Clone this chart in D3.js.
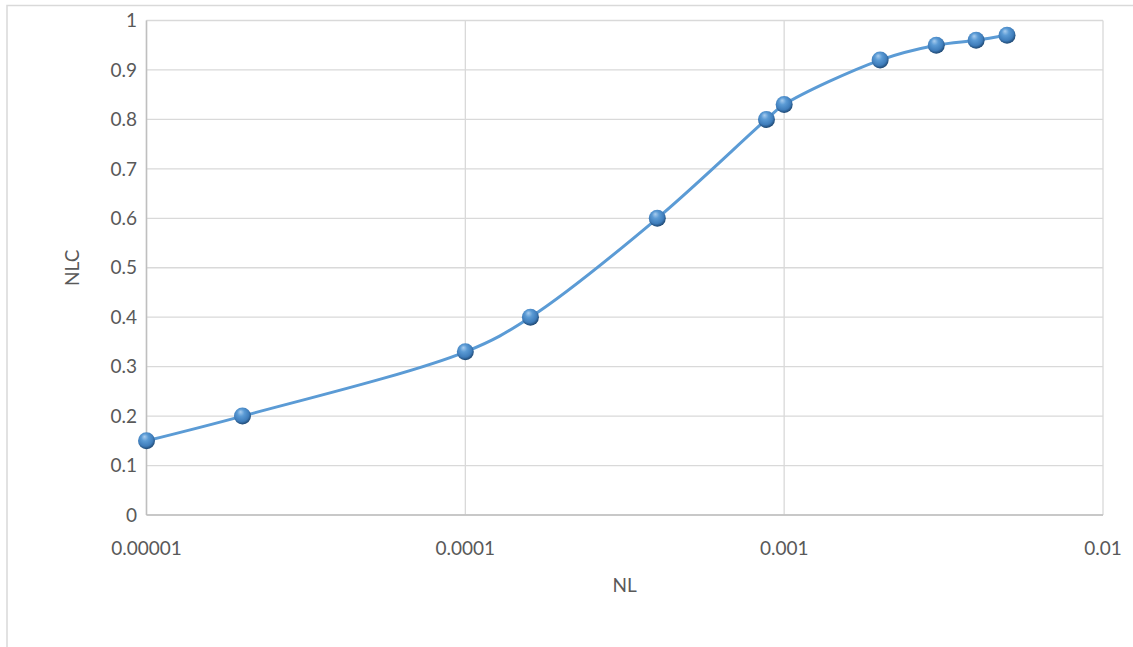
<!DOCTYPE html>
<html>
<head>
<meta charset="utf-8">
<script src="https://cdn.jsdelivr.net/npm/d3@7"></script>
<style>
  html, body { margin: 0; padding: 0; background: #fff; }
  svg { display: block; }
  text { font-family: Lato, "Open Sans", sans-serif; fill: #595959; }
</style>
</head>
<body>
<svg id="chart" width="1133" height="647"></svg>
<script>
// NL values (log axis) and the matching NLC readings
const nl  = [0.00001, 0.00002, 0.0001, 0.00016, 0.0004, 0.00088, 0.001, 0.002, 0.003, 0.004, 0.005];
const nlc = [0.15, 0.20, 0.33, 0.40, 0.60, 0.80, 0.83, 0.92, 0.95, 0.96, 0.97];

const xTicks = [0.00001, 0.0001, 0.001, 0.01];
const xTickLabels = ["0.00001", "0.0001", "0.001", "0.01"];
const yTicks = [0, 0.1, 0.2, 0.3, 0.4, 0.5, 0.6, 0.7, 0.8, 0.9, 1];
const yTickLabels = ["0", "0.1", "0.2", "0.3", "0.4", "0.5", "0.6", "0.7", "0.8", "0.9", "1"];

const svg = d3.select("#chart");
const W = 1133, H = 647;
const plot = { left: 146.5, top: 20.5, right: 1103, bottom: 515 };
const fs = 19;

// outer chart frame (runs past the right and bottom edges)
svg.append("rect")
  .attr("x", 7).attr("y", 5.5)
  .attr("width", W + 20).attr("height", H + 20)
  .attr("fill", "#fff").attr("stroke", "#d9d9d9").attr("stroke-width", 1.5);

const x = d3.scaleLog().domain([0.00001, 0.01]).range([plot.left, plot.right]);
const y = d3.scaleLinear().domain([0, 1]).range([plot.bottom, plot.top]);

// horizontal gridlines
svg.append("g")
  .selectAll("line").data(yTicks).join("line")
  .attr("x1", plot.left).attr("x2", plot.right)
  .attr("y1", d => y(d)).attr("y2", d => y(d))
  .attr("stroke", "#d9d9d9").attr("stroke-width", 1.3);

// vertical gridlines at each decade
svg.append("g")
  .selectAll("line").data(xTicks).join("line")
  .attr("x1", d => x(d)).attr("x2", d => x(d))
  .attr("y1", plot.top).attr("y2", plot.bottom)
  .attr("stroke", "#d9d9d9").attr("stroke-width", 1.3);

// axis lines
svg.append("line")
  .attr("x1", plot.left).attr("x2", plot.left)
  .attr("y1", plot.top).attr("y2", plot.bottom)
  .attr("stroke", "#bfbfbf").attr("stroke-width", 1.5);
svg.append("line")
  .attr("x1", plot.left).attr("x2", plot.right)
  .attr("y1", plot.bottom).attr("y2", plot.bottom)
  .attr("stroke", "#bfbfbf").attr("stroke-width", 1.5);

// y tick labels
svg.append("g")
  .selectAll("text").data(yTicks).join("text")
  .attr("x", 137).attr("y", d => y(d))
  .attr("dy", "0.35em")
  .attr("text-anchor", "end")
  .attr("font-size", fs)
  .text((d, i) => yTickLabels[i]);

// x tick labels
svg.append("g")
  .selectAll("text").data(xTicks).join("text")
  .attr("x", d => x(d)).attr("y", 548)
  .attr("dy", "0.35em")
  .attr("text-anchor", "middle")
  .attr("font-size", fs)
  .text((d, i) => xTickLabels[i]);

// axis titles
svg.append("text")
  .attr("x", (plot.left + plot.right) / 2).attr("y", 585)
  .attr("dy", "0.35em").attr("text-anchor", "middle")
  .attr("font-size", fs).text("NL");
svg.append("text")
  .attr("transform", `translate(72,${(plot.top + plot.bottom) / 2}) rotate(-90)`)
  .attr("dy", "0.35em").attr("text-anchor", "middle")
  .attr("font-size", fs).text("NLC");

// shaded sphere for the markers
const defs = svg.append("defs");
const grad = defs.append("radialGradient")
  .attr("id", "ball").attr("cx", "45%").attr("cy", "40%").attr("r", "60%")
  .attr("fx", "38%").attr("fy", "25%");
grad.append("stop").attr("offset", "0%").attr("stop-color", "#a9cdef");
grad.append("stop").attr("offset", "35%").attr("stop-color", "#5b9bd5");
grad.append("stop").attr("offset", "75%").attr("stop-color", "#3f7dbb");
grad.append("stop").attr("offset", "100%").attr("stop-color", "#1d4670");

const pts = nl.map((v, i) => [v, nlc[i]]);

// smoothed series line
const line = d3.line()
  .x(d => x(d[0])).y(d => y(d[1]))
  .curve(d3.curveCatmullRom.alpha(0.5));
svg.append("path")
  .datum(pts)
  .attr("d", line)
  .attr("fill", "none")
  .attr("stroke", "#5b9bd5")
  .attr("stroke-width", 3)
  .attr("stroke-linecap", "round");

// markers
svg.append("g")
  .selectAll("circle").data(pts).join("circle")
  .attr("cx", d => x(d[0])).attr("cy", d => y(d[1]))
  .attr("r", 8.5)
  .attr("fill", "url(#ball)");
</script>
</body>
</html>
